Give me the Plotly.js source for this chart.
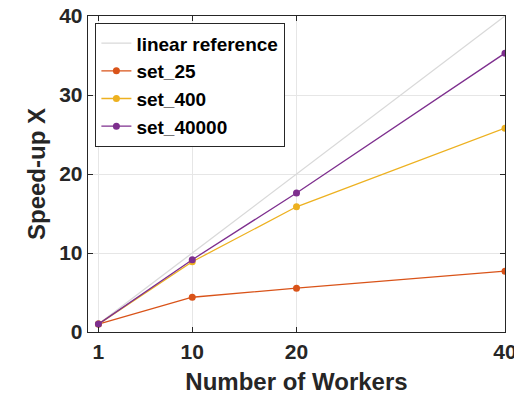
<!DOCTYPE html>
<html><head><meta charset="utf-8">
<script src="https://cdn.plot.ly/plotly-3.0.1.min.js"></script>
<style>body{margin:0;background:#fff}#chart{width:514px;height:396px}</style>
</head><body><div id="chart"></div>
<script>
const workers = [1, 10, 20, 40];
const linearRef = [1, 10, 20, 40];
const set25 = [1.0, 4.4, 5.55, 7.7];
const set400 = [1.0, 8.9, 15.85, 25.8];
const set40000 = [1.0, 9.15, 17.6, 35.3];
const xTicks = [1, 10, 20, 40];
const yTicks = [0, 10, 20, 30, 40];

const traces = [
  {x: workers, y: linearRef, name: 'linear reference', mode: 'lines', line: {color: '#d9d9d9', width: 1.3}},
  {x: workers, y: set25, name: 'set_25', mode: 'lines+markers', line: {color: '#D95319', width: 1.3}, marker: {color: '#D95319', size: 7}},
  {x: workers, y: set400, name: 'set_400', mode: 'lines+markers', line: {color: '#EDB120', width: 1.3}, marker: {color: '#EDB120', size: 7}},
  {x: workers, y: set40000, name: 'set_40000', mode: 'lines+markers', line: {color: '#7E2F8E', width: 1.3}, marker: {color: '#7E2F8E', size: 7}}
];

const layout = {
  width: 514, height: 396,
  margin: {l: 88, r: 9, t: 16, b: 64},
  paper_bgcolor: '#fff', plot_bgcolor: '#fff',
  font: {family: 'Arial, Liberation Sans, sans-serif', color: '#262626'},
  showlegend: true,
  legend: {x: 0.017, y: 0.978, xanchor: 'left', yanchor: 'top', bordercolor: '#262626', borderwidth: 1.3,
    bgcolor: '#fff', font: {size: 19, color: '#000', family: 'Arial, Liberation Sans, sans-serif', weight: 'bold'},
    tracegroupgap: 0, itemwidth: 30},
  xaxis: {range: [0, 40], tickvals: xTicks, ticktext: xTicks.map(String), ticks: 'inside', ticklen: 5,
    tickcolor: '#262626', showline: true, linecolor: '#262626', linewidth: 1.3, mirror: 'ticks',
    showgrid: true, gridcolor: '#e6e6e6', zeroline: false, ticklabeloverflow: 'allow',
    tickfont: {size: 21, weight: 'bold', color: '#262626'},
    title: {text: 'Number of Workers', font: {size: 24, weight: 'bold', color: '#262626'}, standoff: 11}},
  yaxis: {range: [0, 40], tickvals: yTicks, ticks: 'inside', ticklen: 5,
    tickcolor: '#262626', showline: true, linecolor: '#262626', linewidth: 1.3, mirror: 'ticks',
    showgrid: true, gridcolor: '#e6e6e6', zeroline: false, ticklabeloverflow: 'allow',
    tickfont: {size: 21, weight: 'bold', color: '#262626'},
    title: {text: 'Speed-up X', font: {size: 24, weight: 'bold', color: '#262626'}, standoff: 6}}
};
Plotly.newPlot('chart', traces, layout, {displayModeBar: false, staticPlot: true});
</script></body></html>
